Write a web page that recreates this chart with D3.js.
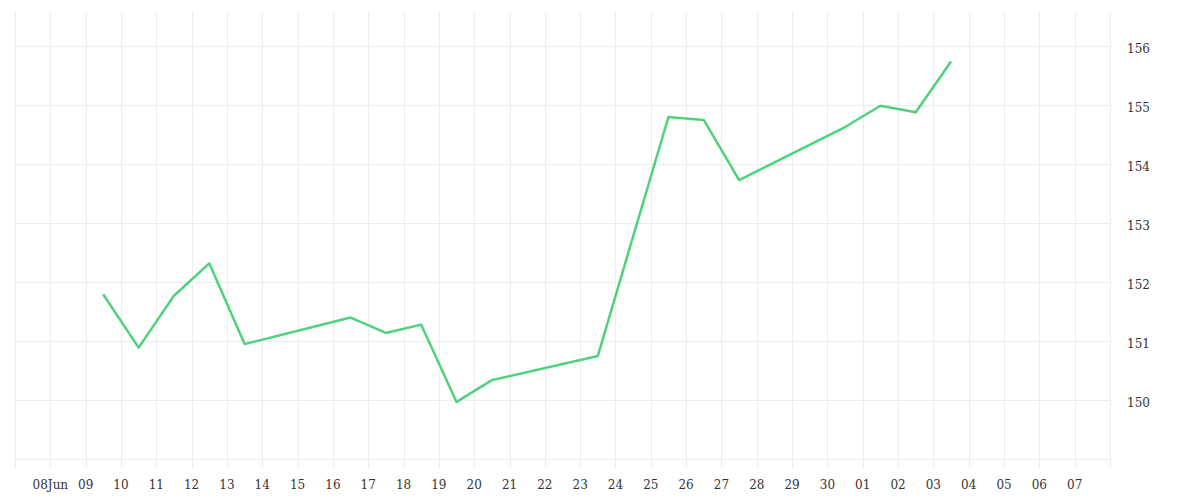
<!DOCTYPE html>
<html>
<head>
<meta charset="utf-8">
<script src="https://cdn.jsdelivr.net/npm/d3@7"></script>
<style>
  body { margin: 0; background: #fff; }
  .tick-label { font-family: "DejaVu Serif", serif; font-size: 12px; fill: #333; }
</style>
</head>
<body>
<div id="chart"></div>
<script>
// daily closes (noon UTC)
var dates = ["2020-06-09", "2020-06-10", "2020-06-11", "2020-06-12", "2020-06-13",
             "2020-06-16", "2020-06-17", "2020-06-18", "2020-06-19", "2020-06-20",
             "2020-06-23", "2020-06-25", "2020-06-26", "2020-06-27", "2020-06-30",
             "2020-07-01", "2020-07-02", "2020-07-03"];
var prices = [151.79, 150.89, 151.77, 152.32, 150.95,
              151.40, 151.14, 151.28, 149.97, 150.34,
              150.75, 154.80, 154.75, 153.73, 154.63,
              154.99, 154.88, 155.74];
var yTicks = [149, 150, 151, 152, 153, 154, 155, 156];
var yLabels = [150, 151, 152, 153, 154, 155, 156];
var xLabels = ["08Jun", "09", "10", "11", "12", "13", "14", "15", "16", "17", "18", "19",
               "20", "21", "22", "23", "24", "25", "26", "27", "28", "29", "30",
               "01", "02", "03", "04", "05", "06", "07"];

var width = 1200, height = 500;
var margin = {top: 12, right: 90, bottom: 32, left: 15};

var parse = d3.utcParse("%Y-%m-%d");
var data = dates.map(function(d, i) {
    return {date: d3.utcHour.offset(parse(d), 12), value: prices[i]};
});

var svg = d3.select("#chart").append("svg")
    .attr("width", width)
    .attr("height", height);

var x = d3.scaleUtc()
    .domain([Date.UTC(2020, 5, 7), Date.UTC(2020, 6, 8)])
    .range([margin.left, width - margin.right]);

var y = d3.scaleLinear()
    .domain([148.85, 156.58])
    .range([height - margin.bottom, margin.top]);

var days = d3.utcDay.range(Date.UTC(2020, 5, 7), Date.UTC(2020, 6, 9));

// grid
svg.append("g").selectAll("line")
    .data(days)
    .enter().append("line")
    .attr("x1", function(d) { return Math.round(x(d)) + 0.5; })
    .attr("x2", function(d) { return Math.round(x(d)) + 0.5; })
    .attr("y1", margin.top)
    .attr("y2", height - margin.bottom)
    .attr("stroke", "#ececec")
    .attr("stroke-width", 1);

svg.append("g").selectAll("line")
    .data(yTicks)
    .enter().append("line")
    .attr("x1", margin.left)
    .attr("x2", width - margin.right)
    .attr("y1", function(d) { return Math.round(y(d)) + 0.5; })
    .attr("y2", function(d) { return Math.round(y(d)) + 0.5; })
    .attr("stroke", "#ececec")
    .attr("stroke-width", 1);

// x labels, one per day from 08 Jun
svg.append("g").selectAll("text")
    .data(days.slice(1, xLabels.length + 1))
    .enter().append("text")
    .attr("class", "tick-label")
    .attr("x", function(d) { return x(d); })
    .attr("y", 489)
    .attr("text-anchor", "middle")
    .text(function(d, i) { return xLabels[i]; });

// y labels on the right
svg.append("g").selectAll("text")
    .data(yLabels)
    .enter().append("text")
    .attr("class", "tick-label")
    .attr("x", 1127)
    .attr("y", function(d) { return y(d); })
    .attr("dy", "0.6em")
    .text(function(d) { return d; });

var line = d3.line()
    .x(function(d) { return x(d.date); })
    .y(function(d) { return y(d.value); });

svg.append("path")
    .datum(data)
    .attr("fill", "none")
    .attr("stroke", "#4fd27b")
    .attr("stroke-width", 2.5)
    .attr("stroke-linejoin", "round")
    .attr("d", line);
</script>
</body>
</html>
